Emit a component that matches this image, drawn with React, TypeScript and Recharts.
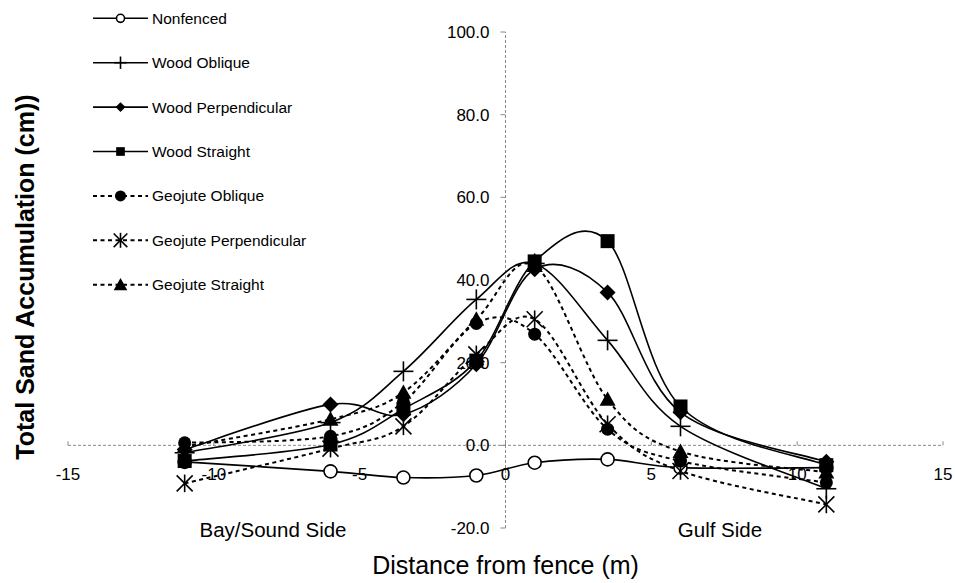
import React from 'react';
import { LineChart, Line, XAxis, YAxis, ReferenceLine, Legend } from 'recharts';

// ---- data ----
const distances = [-11, -6, -3.5, -1, 1, 3.5, 6, 11];
const nonfenced = [-4.0, -6.3, -7.8, -7.3, -4.2, -3.4, -5.4, -5.4];
const woodOblique = [-1.8, 5.5, 17.9, 35.3, 44.0, 25.4, 4.6, -10.5];
const woodPerpendicular = [-1.0, 9.9, 7.5, 19.6, 42.6, 37.0, 8.0, -4.0];
const woodStraight = [-3.8, 0.2, 8.8, 20.5, 44.5, 49.4, 9.4, -4.8];
const geojuteOblique = [0.6, 2.2, 10.5, 29.5, 26.9, 3.9, -3.8, -9.0];
const geojutePerpendicular = [-9.2, -0.8, 4.6, 22.0, 30.5, 5.1, -6.2, -14.3];
const geojuteStraight = [-0.3, 6.3, 12.8, 30.5, 43.5, 11.1, -1.5, -6.5];

const xTicks = [-15, -10, -5, 0, 5, 10, 15];
const yTicks = [-20, 0, 20, 40, 60, 80, 100];

const xTitle = 'Distance from fence (m)';
const yTitle = 'Total Sand Accumulation (cm))';
const leftSideLabel = 'Bay/Sound Side';
const rightSideLabel = 'Gulf Side';

const series = [
  { key: 'nonfenced', name: 'Nonfenced', values: nonfenced, dashed: false, marker: 'openCircle' },
  { key: 'woodOblique', name: 'Wood Oblique', values: woodOblique, dashed: false, marker: 'plus' },
  { key: 'woodPerpendicular', name: 'Wood Perpendicular', values: woodPerpendicular, dashed: false, marker: 'diamond' },
  { key: 'woodStraight', name: 'Wood Straight', values: woodStraight, dashed: false, marker: 'square' },
  { key: 'geojuteOblique', name: 'Geojute Oblique', values: geojuteOblique, dashed: true, marker: 'filledCircle' },
  { key: 'geojutePerpendicular', name: 'Geojute Perpendicular', values: geojutePerpendicular, dashed: true, marker: 'star' },
  { key: 'geojuteStraight', name: 'Geojute Straight', values: geojuteStraight, dashed: true, marker: 'triangle' },
];

const data = distances.map((x, i) => {
  const row: Record<string, number> = { x };
  series.forEach((s) => { row[s.key] = s.values[i]; });
  return row;
});

// ---- layout ----
const W = 955;
const H = 583;
const M = { top: 32, right: 12, bottom: 54, left: 67 };
const AXIS_SIZE = 1;
const PLOT_LEFT = M.left + AXIS_SIZE;
const PW = W - PLOT_LEFT - M.right;
const PH = H - M.top - M.bottom - AXIS_SIZE;
const X_MIN = -15, X_MAX = 15, Y_MIN = -20, Y_MAX = 100;
const zeroX = PLOT_LEFT + (PW * (0 - X_MIN)) / (X_MAX - X_MIN);
const zeroY = M.top + (PH * (Y_MAX - 0)) / (Y_MAX - Y_MIN);
const FONT = "'Liberation Sans', Arial, Helvetica, sans-serif";
const AXIS_GRAY = '#8a8a8a';
const DASH = '4 3.5';

// Excel-like smoothed line (Catmull-Rom through points)
function excelSmooth(context: any) {
  let pts: number[][] = [];
  return {
    areaStart() {},
    areaEnd() {},
    lineStart() { pts = []; },
    point(x: number, y: number) { pts.push([+x, +y]); },
    lineEnd() {
      const n = pts.length;
      if (!n) return;
      context.moveTo(pts[0][0], pts[0][1]);
      if (n === 2) { context.lineTo(pts[1][0], pts[1][1]); return; }
      for (let i = 0; i < n - 1; i++) {
        const p0 = pts[Math.max(i - 1, 0)];
        const p1 = pts[i];
        const p2 = pts[i + 1];
        const p3 = pts[Math.min(i + 2, n - 1)];
        context.bezierCurveTo(
          p1[0] + (p2[0] - p0[0]) / 6, p1[1] + (p2[1] - p0[1]) / 6,
          p2[0] - (p3[0] - p1[0]) / 6, p2[1] - (p3[1] - p1[1]) / 6,
          p2[0], p2[1],
        );
      }
    },
  };
}

function Marker({ kind, cx, cy, s = 1 }: { kind: string; cx: number; cy: number; s?: number }) {
  switch (kind) {
    case 'openCircle':
      return <circle cx={cx} cy={cy} r={6.5 * s} fill="#fff" stroke="#000" strokeWidth={1.6} />;
    case 'plus':
      return (
        <g stroke="#000" strokeWidth={1.6}>
          <line x1={cx - 10 * s} y1={cy} x2={cx + 10 * s} y2={cy} />
          <line x1={cx} y1={cy - 10 * s} x2={cx} y2={cy + 10 * s} />
        </g>
      );
    case 'diamond': {
      const r = 8 * s;
      return <polygon points={`${cx},${cy - r} ${cx + r},${cy} ${cx},${cy + r} ${cx - r},${cy}`} fill="#000" />;
    }
    case 'square': {
      const r = 7 * s;
      return <rect x={cx - r} y={cy - r} width={2 * r} height={2 * r} fill="#000" />;
    }
    case 'filledCircle':
      return <circle cx={cx} cy={cy} r={6.5 * s} fill="#000" />;
    case 'star': {
      const r = 8 * s;
      return (
        <g stroke="#000" strokeWidth={1.6}>
          <line x1={cx - r} y1={cy - r} x2={cx + r} y2={cy + r} />
          <line x1={cx - r} y1={cy + r} x2={cx + r} y2={cy - r} />
          <line x1={cx} y1={cy - r * 1.1} x2={cx} y2={cy + r * 1.1} />
        </g>
      );
    }
    case 'triangle': {
      const r = 8 * s;
      return <polygon points={`${cx},${cy - r} ${cx + r},${cy + r * 0.8} ${cx - r},${cy + r * 0.8}`} fill="#000" />;
    }
    default:
      return null;
  }
}

const makeDot = (kind: string, key: string) => (props: any) => {
  if (props.cx == null || props.cy == null) return <g key={`${key}-${props.index}`} />;
  return (
    <g key={`${key}-${props.index}`}>
      <Marker kind={kind} cx={props.cx} cy={props.cy} />
    </g>
  );
};

const renderXTick = (props: any) => {
  const { x, payload } = props;
  return (
    <g>
      <line x1={x} x2={x} y1={zeroY - 4} y2={zeroY} stroke={AXIS_GRAY} strokeWidth={1} />
      <text x={x} y={zeroY + 35} textAnchor="middle" fontSize={17} fontFamily={FONT} fill="#000">
        {payload.value}
      </text>
    </g>
  );
};

const renderYTick = (props: any) => {
  const { y, payload } = props;
  return (
    <g>
      <line x1={zeroX - 5} x2={zeroX} y1={y} y2={y} stroke={AXIS_GRAY} strokeWidth={1} />
      <text x={zeroX - 16} y={y} dy="0.35em" textAnchor="end" fontSize={17} fontFamily={FONT} fill="#000">
        {Number(payload.value).toFixed(1)}
      </text>
    </g>
  );
};

const renderXTitle = () => (
  <g>
    <text x={273} y={530} dy="0.35em" textAnchor="middle" fontSize={20.5} fontFamily={FONT} fill="#000">
      {leftSideLabel}
    </text>
    <text x={720} y={530} dy="0.35em" textAnchor="middle" fontSize={20.5} fontFamily={FONT} fill="#000">
      {rightSideLabel}
    </text>
    <text x={zeroX} y={574} textAnchor="middle" fontSize={25} fontFamily={FONT} fill="#000">
      {xTitle}
    </text>
  </g>
);

const renderYTitle = () => (
  <text
    x={25}
    y={277}
    dy="0.35em"
    textAnchor="middle"
    fontSize={25}
    fontWeight="bold"
    fontFamily={FONT}
    fill="#000"
    transform="rotate(-90 25 277)"
  >
    {yTitle}
  </text>
);

const LEG_Y0 = 18.3;
const LEG_DY = 44.4;
const renderLegend = () => (
  <svg width={330} height={310} style={{ display: 'block', overflow: 'visible' }}>
    {series.map((s, i) => {
      const y = LEG_Y0 + i * LEG_DY;
      return (
        <g key={s.key}>
          <line
            x1={93}
            x2={148}
            y1={y}
            y2={y}
            stroke="#000"
            strokeWidth={s.dashed ? 2 : 1.6}
            strokeDasharray={s.dashed ? DASH : undefined}
          />
          <Marker kind={s.marker} cx={120.5} cy={y} s={s.dashed ? 0.85 : 0.62} />
          <text x={152} y={y} dy="0.35em" fontSize={15.5} fontFamily={FONT} fill="#000">
            {s.name}
          </text>
        </g>
      );
    })}
  </svg>
);

export default function App() {
  return (
    <div style={{ position: 'absolute', left: 0, top: 0, width: W, height: H, background: '#fff' }}>
      <LineChart width={W} height={H} data={data} margin={M}>
        <XAxis
          dataKey="x"
          type="number"
          domain={[X_MIN, X_MAX]}
          ticks={xTicks}
          interval={0}
          axisLine={false}
          tickLine={false}
          height={AXIS_SIZE}
          tick={renderXTick}
          label={{ content: renderXTitle }}
        />
        <YAxis
          type="number"
          domain={[Y_MIN, Y_MAX]}
          ticks={yTicks}
          interval={0}
          axisLine={false}
          tickLine={false}
          width={AXIS_SIZE}
          tick={renderYTick}
          label={{ content: renderYTitle }}
        />
        <ReferenceLine y={0} stroke={AXIS_GRAY} strokeDasharray="3 2" strokeWidth={1} />
        <ReferenceLine x={0} stroke={AXIS_GRAY} strokeDasharray="3 2" strokeWidth={1} />
        <Legend
          layout="vertical"
          align="center"
          verticalAlign="middle"
          content={renderLegend}
          wrapperStyle={{ left: 0, top: 0, width: 330, height: 310 }}
        />
        {series.map((s) => (
          <Line
            key={s.key}
            dataKey={s.key}
            name={s.name}
            type={excelSmooth as any}
            stroke="#000"
            strokeWidth={s.dashed ? 2 : 1.6}
            strokeDasharray={s.dashed ? DASH : undefined}
            dot={makeDot(s.marker, s.key)}
            activeDot={false}
            isAnimationActive={false}
            legendType="none"
          />
        ))}
      </LineChart>
    </div>
  );
}
